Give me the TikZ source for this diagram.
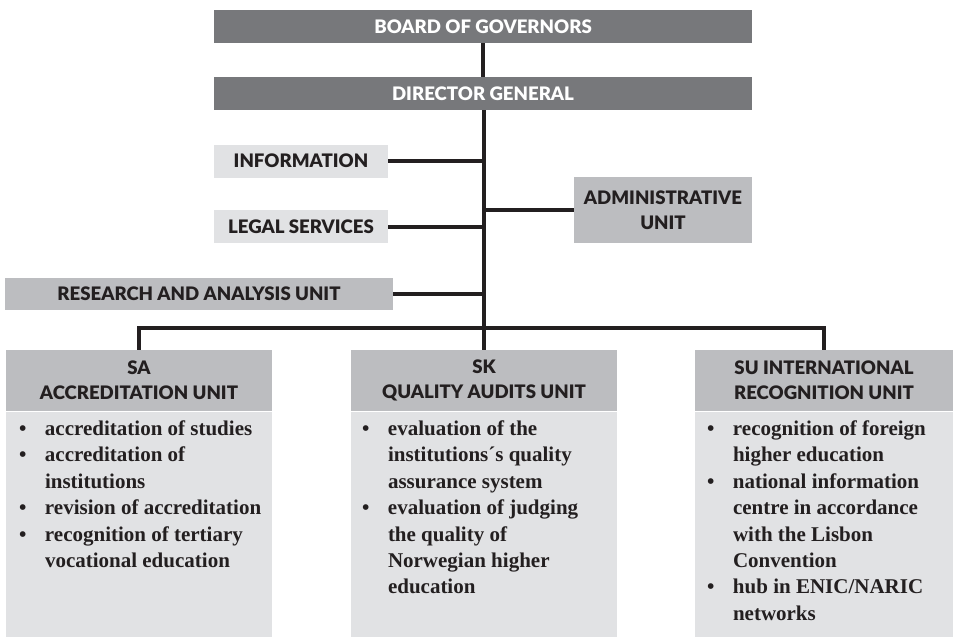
\documentclass[tikz,border=0pt]{standalone}
\usepackage{fontspec}
\setmainfont{Liberation Serif}
\newfontfamily\headfont{Lato}[BoldFont={Lato Black}]
\usetikzlibrary{positioning}

\definecolor{darkbox}{HTML}{77787B}
\definecolor{midbox}{HTML}{BCBDC0}
\definecolor{lightbox}{HTML}{E1E2E4}
\definecolor{linecol}{HTML}{231F20}

\newcommand\bitem{\makebox[13pt][l]{\textbullet}}
\newcommand\bcont{\hspace*{13pt}}

\tikzset{
  topbox/.style={fill=darkbox, text=white, inner sep=0pt, minimum width=269pt, minimum height=16.5pt, font=\headfont\bfseries\fontsize{9.3}{10}\selectfont},
  unitbox/.style={fill=midbox, text=linecol, inner sep=0pt, align=center, font=\headfont\bfseries\fontsize{9.3}{12.5}\selectfont},
  staffbox/.style={fill=lightbox, text=linecol, inner sep=0pt, minimum width=87pt, minimum height=16.5pt, font=\headfont\bfseries\fontsize{9.3}{10}\selectfont},
  bodybox/.style={fill=lightbox, inner sep=0pt, minimum height=113pt},
  listtext/.style={inner sep=0pt, align=left, text=linecol, font=\bfseries\fontsize{10.5}{13.2}\selectfont},
  conn/.style={draw=linecol, line width=2pt}
}

\begin{document}
\begin{tikzpicture}[x=0.5pt,y=-0.5pt]
\useasboundingbox (0,0) rectangle (953,637);
% top of the chart
\node [topbox] (board) at (483,26.5) {BOARD OF GOVERNORS};
\node [topbox] (director) at (483,93.5) {DIRECTOR GENERAL};
% staff functions
\node [staffbox] (info) at (301,161) {INFORMATION};
\node [staffbox] (legal) at (301,226.5) {LEGAL SERVICES};
\node [unitbox, minimum width=89pt, minimum height=33pt] (admin) at (663,210) {ADMINISTRATIVE\\UNIT};
\node [unitbox, minimum width=194pt, minimum height=16pt] (research) at (199,294) {RESEARCH AND ANALYSIS UNIT};
% the three units
\node [unitbox, minimum width=133pt, minimum height=30.5pt] (sahead) at (139,380.5) {SA\\ACCREDITATION UNIT};
\node [unitbox, minimum width=133pt, minimum height=30.5pt] (skhead) at (484,380.5) {SK\\QUALITY AUDITS UNIT};
\node [unitbox, minimum width=129pt, minimum height=30.5pt] (suhead) at (824,380.5) {SU INTERNATIONAL\\RECOGNITION UNIT};
\node [bodybox, minimum width=133pt, below=0pt of sahead] (sabody) {};
\node [bodybox, minimum width=133pt, below=0pt of skhead] (skbody) {};
\node [bodybox, minimum width=129pt, below=0pt of suhead] (subody) {};
\node [listtext, anchor=north west] (salist) at ([xshift=6.5pt,yshift=-4.5pt]sabody.north west) {%
\bitem accreditation of studies\\
\bitem accreditation of\\
\bcont institutions\\
\bitem revision of accreditation\\
\bitem recognition of tertiary\\
\bcont vocational education};
\node [listtext, anchor=north west] (sklist) at ([xshift=5.5pt,yshift=-4.5pt]skbody.north west) {%
\bitem evaluation of the\\
\bcont institutions´s quality\\
\bcont assurance system\\
\bitem evaluation of judging\\
\bcont the quality of\\
\bcont Norwegian higher\\
\bcont education};
\node [listtext, anchor=north west] (sulist) at ([xshift=6pt,yshift=-4.5pt]subody.north west) {%
\bitem recognition of foreign\\
\bcont higher education\\
\bitem national information\\
\bcont centre in accordance\\
\bcont with the Lisbon\\
\bcont Convention\\
\bitem hub in ENIC/NARIC\\
\bcont networks};
% connectors
\coordinate (bus) at (484,328);
\draw [conn] (board) -- (director);
\draw [conn] (director.south -| bus) -- (bus);
\draw [conn] (info.east) -- (info.east -| bus);
\draw [conn] (legal.east) -- (legal.east -| bus);
\draw [conn] (admin.west) -- (admin.west -| bus);
\draw [conn] (research.east) -- (research.east -| bus);
\draw [conn] (sahead.north) |- (bus) -| (suhead.north);
\draw [conn] (bus) -- (skhead.north);
\end{tikzpicture}
\end{document}
